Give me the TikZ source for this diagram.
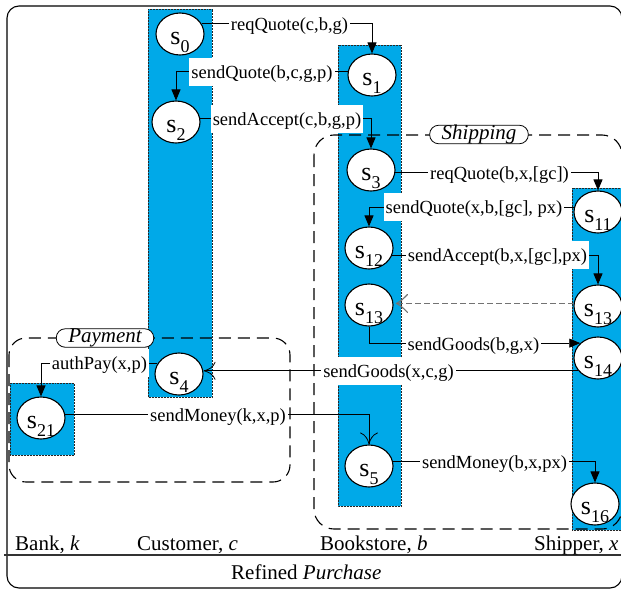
\documentclass[tikz,border=0pt]{standalone}
\usepackage{fontspec}
\setmainfont{Liberation Serif}
\usetikzlibrary{shapes.geometric,arrows.meta}

\definecolor{lanecyan}{RGB}{0,169,232}

% state name: upright s with a lowered subscript
\newcommand\statelabel[1]{s\raisebox{-8pt}{\fontsize{18}{18}\selectfont #1}}

\begin{document}
\begin{tikzpicture}[x=1pt,y=-1pt,
  lane/.style={fill=lanecyan, draw=black!85, densely dotted, line width=0.5pt},
  st/.style={ellipse, draw, fill=white, line width=1.1pt,
    minimum width=48pt, minimum height=42pt, inner sep=0pt},
  stname/.style={font=\fontsize{26}{26}\selectfont, yshift=-8.5pt, inner sep=0pt},
  msg/.style={fill=white, inner xsep=2pt, inner ysep=6pt, text height=14pt,
    text depth=2pt, font=\fontsize{18.5}{20}\selectfont},
  conn/.style={line width=0.8pt, -{Triangle[length=11pt,width=9pt]}},
  openconn/.style={line width=0.8pt, -{Computer Modern Rightarrow[length=12pt,width=18pt]}},
  implied/.style={black!55, line width=1.3pt},
  group/.style={draw, dash pattern=on 12pt off 7pt, line width=1.1pt},
  tag/.style={draw, fill=white, line width=0.8pt, rounded corners=9pt,
    inner xsep=12pt, inner ysep=0pt, text height=14pt, text depth=4.5pt,
    font=\fontsize{21}{21}\selectfont\itshape},
  role/.style={anchor=base west, inner sep=0pt, font=\fontsize{21}{21}\selectfont}
]
\useasboundingbox (0,0) rectangle (621,589);
\clip (0,0) rectangle (621,589);

% outer frame and the title strip
\draw[line width=1.1pt, rounded corners=12pt] (7,6) rectangle (622,588);
\draw[line width=1.4pt, black!80] (4,555) -- (622,555);

% lifelines of the four roles
\fill[lane] (148,9) rectangle (212,397);
\fill[lane] (338,45) rectangle (401,506);
\fill[lane] (572,188) rectangle (640,530);
\fill[lane] (10,383) rectangle (74,455);
\draw[lane, fill=none] (148,9) rectangle (212,397);
\draw[lane, fill=none] (338,45) rectangle (401,506);
\draw[lane, fill=none] (572,188) rectangle (640,530);
\draw[lane, fill=none] (10,383) rectangle (74,455);

% sub-protocol regions
\draw[group, rounded corners=20pt] (314,135) rectangle (622,529);
\draw[group, rounded corners=17pt] (9,338) rectangle (290,482);

% states
\node[st, label={[stname]center:\statelabel{0}}]  (s0)   at (180,34)  {};
\node[st, label={[stname]center:\statelabel{1}}]  (s1)   at (372,75)  {};
\node[st, label={[stname]center:\statelabel{2}}]  (s2)   at (176,122) {};
\node[st, label={[stname]center:\statelabel{3}}]  (s3)   at (371,170) {};
\node[st, label={[stname]center:\statelabel{11}}] (s11)  at (598,212) {};
\node[st, label={[stname]center:\statelabel{12}}] (s12)  at (369,248) {};
\node[st, label={[stname]center:\statelabel{13}}] (s13a) at (369,305) {};
\node[st, label={[stname]center:\statelabel{13}}] (s13b) at (598,306) {};
\node[st, label={[stname]center:\statelabel{14}}] (s14)  at (598,358) {};
\node[st, label={[stname]center:\statelabel{4}}]  (s4)   at (179,374) {};
\node[st, label={[stname]center:\statelabel{21}}] (s21)  at (41,418)  {};
\node[st, label={[stname]center:\statelabel{5}}]  (s5)   at (369,466) {};
\node[st, label={[stname]center:\statelabel{16}}] (s16)  at (595,504) {};

% messages
\draw[conn] (s0.25) -| (s1.north);
\draw[conn] (s1.172) -| (s2.north);
\draw[conn] (s2.8) -| (s3.north);
\draw[conn] (s3.-6) -| (s11.north);
\draw[conn] (s11.168) -| (s12.north);
\draw[conn] (s12.-17) -| (s13b.north);
% implied transition: dashed shaft with an open, solid tip
\coordinate (d13) at ([xshift=3pt]s13b.174 -| s13a.east);
\draw[implied, dash pattern=on 6pt off 3pt] (s13b.174) -- (d13);
\draw[implied, line width=1.1pt, line cap=round]
  ([shift={(11pt,-9pt)}]d13) .. controls ([shift={(5pt,-3pt)}]d13) .. (d13)
  .. controls ([shift={(5pt,3pt)}]d13) .. ([shift={(11pt,9pt)}]d13);
\draw[conn] (s13a.south) |- (s14.140);
\draw[openconn] (s14.213) -- (s14.213 -| s4.east);
\draw[conn] (s4.155) -| (s21.north);
\draw[openconn] (s21.8) -| (s5.north);
\draw[conn] (s5.10) -| (s16.north);

% message labels
\node[msg] (m1)  at (289.5,24)  {reqQuote(c,b,g)};
\node[msg] (m2)  at (262,72)    {sendQuote(b,c,g,p)};
\node[msg] (m3)  at (287,119)   {sendAccept(c,b,g,p)};
\node[msg] (m4)  at (499.5,173) {reqQuote(b,x,[gc])};
\node[msg] (m5)  at (474,207)   {sendQuote(x,b,[gc], px)};
\node[msg] (m6)  at (497.5,255) {sendAccept(b,x,[gc],px)};
\node[msg] (m7)  at (473.5,344) {sendGoods(b,g,x)};
\node[msg] (m8)  at (388.5,371) {sendGoods(x,c,g)};
\node[msg] (m9)  at (99.5,363)  {authPay(x,p)};
\node[msg] (m10) at (218,415)   {sendMoney(k,x,p)};
\node[msg] (m11) at (494.5,462) {sendMoney(b,x,px)};

% region tags
\node[tag] (tship) at (479,134.5) {Shipping};
\node[tag] (tpay)  at (105,338)   {Payment};

% role names and title
\node[role] (rbank) at (15,550)  {Bank, \textit{k}};
\node[role] (rcust) at (137,550) {Customer, \textit{c}};
\node[role] (rbook) at (320,550) {Bookstore, \textit{b}};
\node[role] (rship) at (534,550) {Shipper, \textit{x}};
\node[role] (title) at (231,579) {Refined \textit{Purchase}};
\end{tikzpicture}
\end{document}
